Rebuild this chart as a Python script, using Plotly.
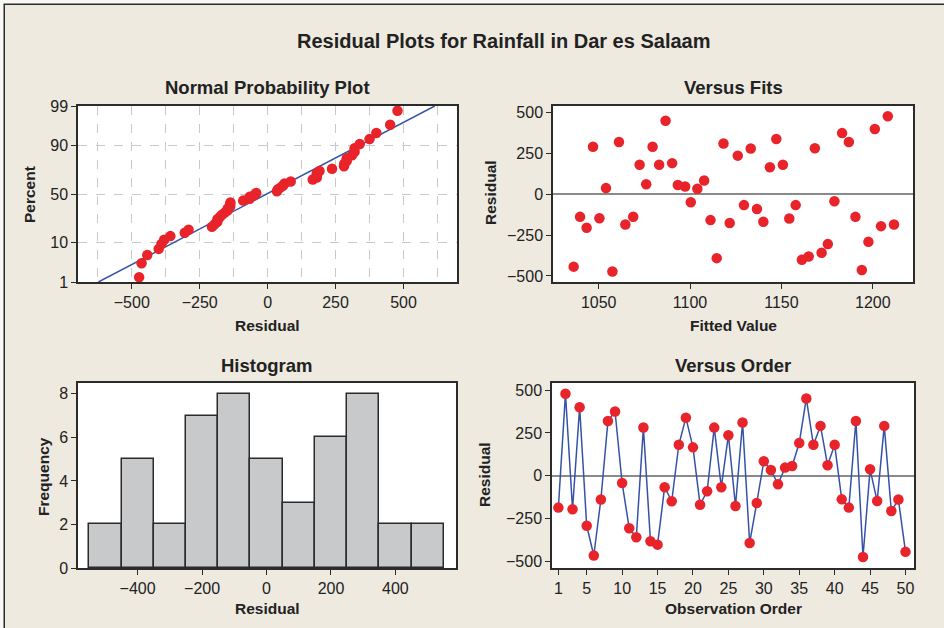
import plotly.graph_objects as go
from statistics import NormalDist, mean, stdev

# ---------------- data ----------------
residuals = [-185, 478, -195, 400, -291, -464, -138, 320, 375, -42,
             -305, -358, 282, -381, -401, -66, -148, 181, 339, 166,
             -168, -90, 281, -66, 237, -176, 311, -391, -158, 85,
             34, -49, 48, 57, 191, 451, 181, 291, 62, 181,
             -137, -185, 320, -473, 38, -147, 291, -205, -138, -443]
fitted = [1211.6, 1208.2, 1204.5, 1201.1, 1197.6, 1194.0, 1190.5, 1186.9, 1183.2, 1179.0,
          1175.4, 1172.0, 1168.3, 1164.9, 1161.2, 1157.8, 1154.3, 1150.8, 1147.2, 1143.7,
          1140.1, 1136.6, 1133.2, 1129.5, 1126.1, 1121.7, 1118.3, 1114.6, 1111.2, 1107.7,
          1104.0, 1100.4, 1097.3, 1093.3, 1090.2, 1086.6, 1083.1, 1079.5, 1076.0, 1072.4,
          1068.9, 1064.6, 1061.1, 1057.5, 1054.0, 1050.4, 1046.9, 1043.4, 1039.8, 1036.3]
order = list(range(1, len(residuals) + 1))
percent_ticks = [1, 10, 50, 90, 99]
npp_x_ticks = [-500, -250, 0, 250, 500]
npp_x_minor = [-625, -375, -125, 125, 375, 625]
fits_ticks = [1050, 1100, 1150, 1200]
hist_x_ticks = [-400, -200, 0, 200, 400]
hist_y_ticks = [0, 2, 4, 6, 8]
order_ticks = [1, 5, 10, 15, 20, 25, 30, 35, 40, 45, 50]
res_ticks = [-500, -250, 0, 250, 500]

# The page keeps the browser's default 8px body margin, so the figure is
# 928x612 and the page is exactly 944x628.
PAGE_W, PAGE_H, OFF = 944, 628, 8
W, H = PAGE_W - 2 * OFF, PAGE_H - 2 * OFF
BG = '#EEEAE0'
RED = '#E8232A'
BLUE = '#3552A8'
DARK = '#2b2b2b'
FONT = 'Liberation Sans, Arial, Helvetica, sans-serif'

nd = NormalDist()
n = len(residuals)
sorted_res = sorted(residuals)
z_pts = [nd.inv_cdf((i - 0.3) / (n + 0.4)) for i in range(1, n + 1)]
mu, sd = mean(residuals), stdev(residuals)
z_lo, z_hi = nd.inv_cdf(0.01), nd.inv_cdf(0.99)
z_line = [z_lo, z_hi]
x_line = [mu + sd * z for z in z_line]
z_ticks = [nd.inv_cdf(p / 100) for p in percent_ticks]


def px(x):
    return (x - OFF) / W


def py(y):
    return 1 - (y - OFF) / H


def minus(v):
    return str(v).replace('-', '\u2212')


fig = go.Figure()

# Normal probability plot
fig.add_trace(go.Scatter(x=x_line, y=z_line, mode='lines', line=dict(color=BLUE, width=1.5),
                         xaxis='x', yaxis='y', showlegend=False))
fig.add_trace(go.Scatter(x=sorted_res, y=z_pts, mode='markers', marker=dict(color=RED, size=10.5),
                         xaxis='x', yaxis='y', showlegend=False))
# Versus fits
fig.add_trace(go.Scatter(x=fitted, y=residuals, mode='markers', marker=dict(color=RED, size=10.5),
                         xaxis='x2', yaxis='y2', showlegend=False))
# Histogram
fig.add_trace(go.Histogram(x=residuals, xbins=dict(start=-550, end=550, size=100),
                           marker=dict(color='#C8C9CB', line=dict(color=DARK, width=1.5)),
                           xaxis='x3', yaxis='y3', showlegend=False))
# Versus order
fig.add_trace(go.Scatter(x=order, y=residuals, mode='lines+markers',
                         line=dict(color=BLUE, width=1.5), marker=dict(color=RED, size=10.5),
                         xaxis='x4', yaxis='y4', showlegend=False))


def axis(**kw):
    d = dict(showline=True, mirror=True, linecolor=DARK, linewidth=1.5,
             ticks='outside', ticklen=5, tickcolor=DARK, tickwidth=1,
             tickfont=dict(size=16, color='#222', family=FONT),
             showgrid=False, zeroline=False, automargin=False)
    d.update(kw)
    return d


dx1 = [px(78), px(457)]
dx2 = [px(553), px(913)]
dx3 = [px(78), px(456)]
dx4 = [px(552), px(914)]
dyt = [py(282), py(106)]
dyb = [py(568), py(383)]

GRID = '#C9C9C9'
fig.update_layout(
    width=W, height=H, margin=dict(l=0, r=0, t=0, b=0, pad=0, autoexpand=False),
    paper_bgcolor=BG, plot_bgcolor='white', bargap=0, showlegend=False,
    font=dict(family=FONT, color='#222'),
    xaxis=axis(domain=dx1, anchor='y', range=[-698, 697], tickvals=npp_x_ticks,
               ticktext=[minus(v) for v in npp_x_ticks],
               showgrid=True, gridcolor=GRID, griddash='dash', gridwidth=1,
               minor=dict(tickvals=npp_x_minor, showgrid=True, gridcolor=GRID,
                          griddash='dash', ticklen=0)),
    yaxis=axis(domain=dyt, anchor='x', range=[z_lo, z_hi], tickvals=z_ticks,
               ticktext=[str(p) for p in percent_ticks],
               showgrid=True, gridcolor=GRID, griddash='dash', gridwidth=1),
    xaxis2=axis(domain=dx2, anchor='y2', range=[1025, 1222], tickvals=fits_ticks),
    yaxis2=axis(domain=dyt, anchor='x2', range=[-537, 541], tickvals=res_ticks,
                ticktext=[minus(v) for v in res_ticks],
                zeroline=True, zerolinecolor='#8a8a8a', zerolinewidth=1.5),
    xaxis3=axis(domain=dx3, anchor='y3', range=[-585, 588], tickvals=hist_x_ticks,
                ticktext=[minus(v) for v in hist_x_ticks]),
    yaxis3=axis(domain=dyb, anchor='x3', range=[0, 8.5], tickvals=hist_y_ticks),
    xaxis4=axis(domain=dx4, anchor='y4', range=[0.1, 51.2], tickvals=order_ticks),
    yaxis4=axis(domain=dyb, anchor='x4', range=[-537, 541], tickvals=res_ticks,
                ticktext=[minus(v) for v in res_ticks],
                zeroline=True, zerolinecolor='#8a8a8a', zerolinewidth=1.5),
)

annots = [
    ('<b>Residual Plots for Rainfall in Dar es Salaam</b>', 503, 41, 20, 0),
    ('<b>Normal Probability Plot</b>', 267, 88, 18.5, 0),
    ('<b>Versus Fits</b>', 733, 88, 18.5, 0),
    ('<b>Histogram</b>', 267, 365, 18.5, 0),
    ('<b>Versus Order</b>', 733, 365, 18.5, 0),
    ('<b>Residual</b>', 267, 325, 15.5, 0),
    ('<b>Fitted Value</b>', 733, 325, 15.5, 0),
    ('<b>Residual</b>', 267, 608, 15.5, 0),
    ('<b>Observation Order</b>', 733, 608, 15.5, 0),
    ('<b>Percent</b>', 29, 195, 15.5, -90),
    ('<b>Residual</b>', 490, 193, 15.5, -90),
    ('<b>Frequency</b>', 43, 477, 15.5, -90),
    ('<b>Residual</b>', 484, 475, 15.5, -90),
]
fig.update_layout(annotations=[
    dict(text=t, x=px(x), y=py(y), xref='paper', yref='paper', xanchor='center',
         yanchor='middle', showarrow=False, textangle=a,
         font=dict(size=s, color='#222', family=FONT))
    for t, x, y, s, a in annots
])

# colour only (no layout change): page background and the thin frame line
# at the top and left edges of the page
js = ("var de=document.documentElement;"
      "de.style.backgroundColor='" + BG + "';"
      "de.style.boxShadow='inset 3.5px 3.5px 0 0 #F8F8F6, inset 5px 5px 0 0 " + DARK + "';")

fig.write_html('out.html', config={'displayModeBar': False}, post_script=js)
